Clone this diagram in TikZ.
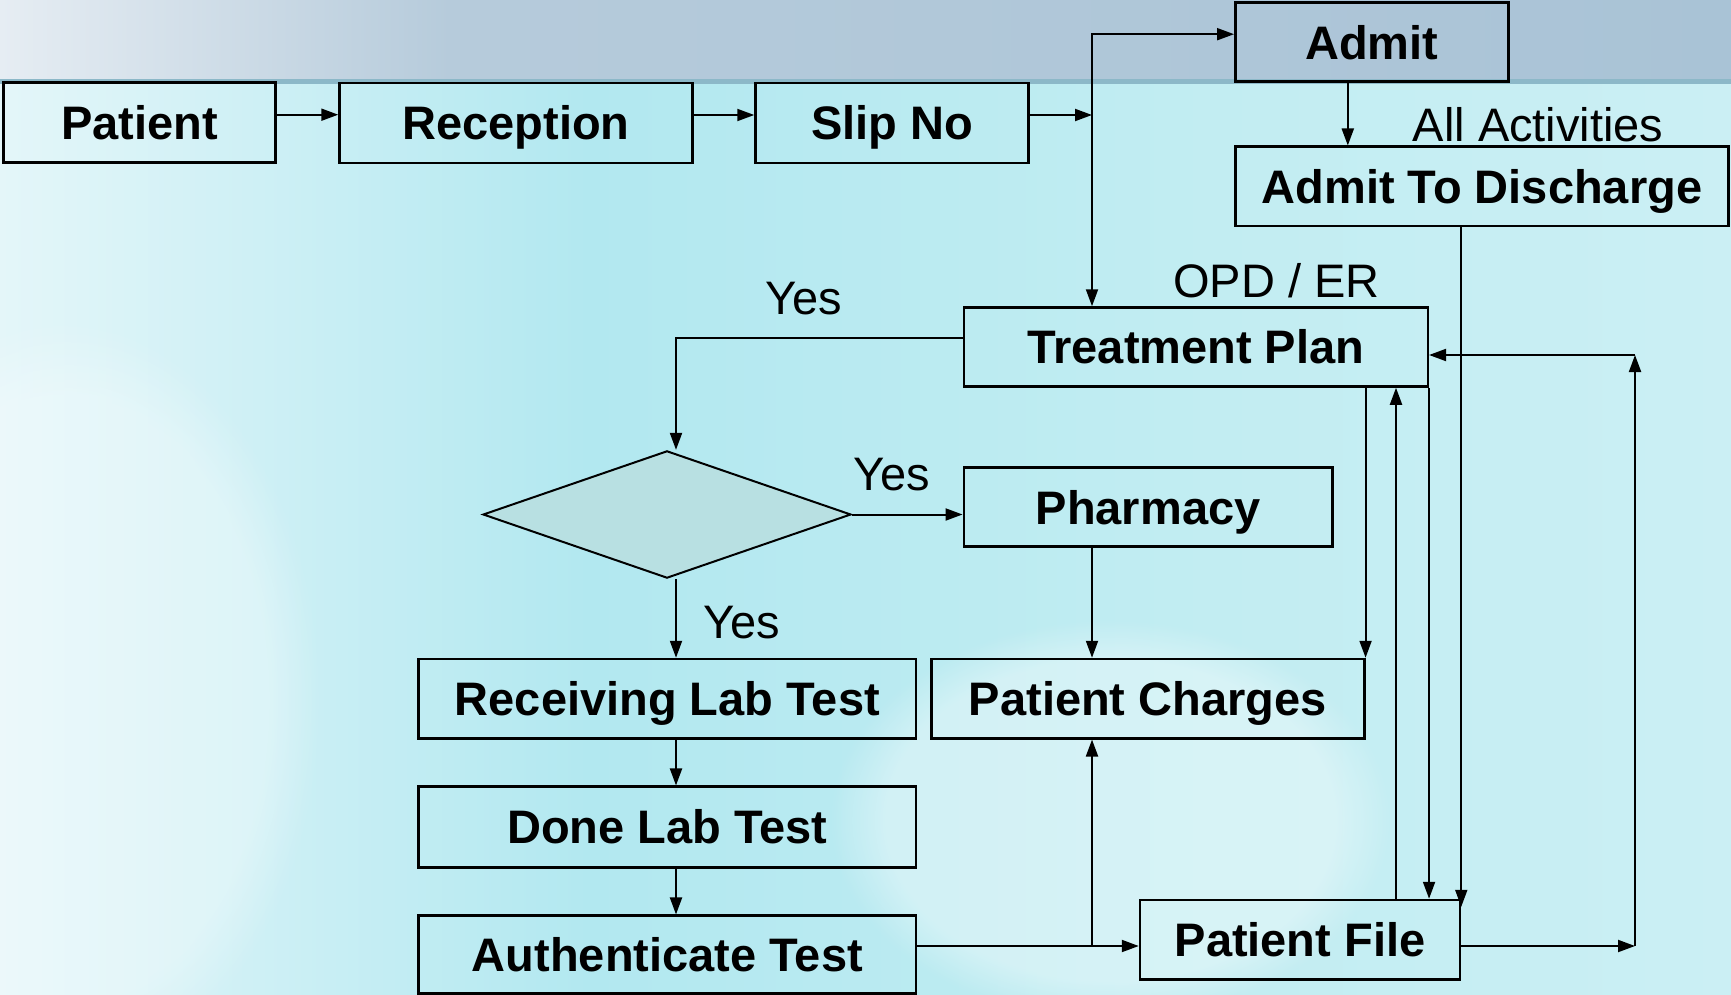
\documentclass[tikz,border=0pt]{standalone}
\usepackage{fontspec}
\setmainfont{Liberation Sans}
\usetikzlibrary{shapes.geometric,arrows.meta,fadings}
\definecolor{bgL}{HTML}{E4F6F9}
\definecolor{bgM}{HTML}{B2E8F0}
\definecolor{bgM2}{HTML}{C2EDF2}
\definecolor{bgR}{HTML}{CBEFF4}
\definecolor{bandL}{HTML}{E6EDF3}
\definecolor{bandM}{HTML}{B6CBDB}
\definecolor{bandR}{HTML}{A9C3D6}
\definecolor{bandEdge}{HTML}{8CB8C8}
\definecolor{diafill}{HTML}{B8E0E2}
\pgfdeclarehorizontalshading{mainbg}{100bp}{color(0bp)=(bgL); color(25bp)=(bgL); color(42bp)=(bgM); color(60bp)=(bgM2); color(75bp)=(bgR); color(100bp)=(bgR)}
\pgfdeclarehorizontalshading{bandbg}{100bp}{color(0bp)=(bandL); color(25bp)=(bandL); color(38bp)=(bandM); color(75bp)=(bandR); color(100bp)=(bandR)}
\newcommand\fsz{\fontsize{47pt}{56pt}\selectfont}
\begin{document}
\begin{tikzpicture}[x=1pt,y=-1pt,
  box/.style={draw=black, line width=2.5pt, inner sep=0pt, font=\bfseries\fsz, text height=33.7pt, text depth=0pt, align=center},
  lbl/.style={inner sep=0pt, anchor=base west, font=\fsz},
  arr/.style={line width=2pt, -{Triangle[length=17pt,width=12pt]}}]
\useasboundingbox (0,0) rectangle (1731,995);
% background
\shade[shading=mainbg] (0,0) rectangle (1731,995);
\fill[white, opacity=0.35, path fading=circle with fuzzy edge 20 percent] (1110,820) ellipse (280 and 200);
\fill[white, opacity=0.3, path fading=circle with fuzzy edge 20 percent] (60,700) ellipse (260 and 380);
\shade[shading=bandbg] (0,0) rectangle (1731,80);
\fill[bandEdge] (0,79) rectangle (1731,84);
% coordinates for connector columns and rows
\coordinate (colx) at (1092,0);
\coordinate (colL) at (676,0);
\coordinate (colU) at (1396,0);
\coordinate (colR) at (1635,0);
\coordinate (rowB) at (0,946);
\coordinate (j1) at (1092,115);
\coordinate (ret) at (1635,355);
% nodes
\node[box, minimum width=272pt, minimum height=80pt] (patient) at (139.6,122.7) {Patient};
\node[box, minimum width=353pt, minimum height=80pt] (reception) at (516,123) {Reception};
\node[box, minimum width=273pt, minimum height=80pt] (slip) at (892,123) {Slip No};
\node[box, minimum width=273pt, minimum height=79pt] (admit) at (1371.8,42.2) {Admit};
\node[box, minimum width=493pt, minimum height=79.3pt] (atd) at (1482,186.4) {Admit To Discharge};
\node[box, minimum width=464pt, minimum height=79pt] (tp) at (1195.8,347) {Treatment Plan};
\node[box, minimum width=368.6pt, minimum height=79pt] (pharm) at (1148.1,507.2) {Pharmacy};
\node[box, minimum width=497.3pt, minimum height=79.3pt] (rlt) at (667.35,698.65) {Receiving Lab Test};
\node[box, minimum width=432.9pt, minimum height=79.3pt] (pc) at (1147.85,698.65) {Patient Charges};
\node[box, minimum width=497.3pt, minimum height=80.6pt] (dlt) at (667.35,827) {Done Lab Test};
\node[box, minimum width=497.3pt, minimum height=78pt] (at) at (667.35,954.7) {Authenticate Test};
\node[box, minimum width=320pt, minimum height=79.3pt] (pf) at (1300,939.65) {Patient File};
% connectors
\draw[arr] ([yshift=8pt]patient.east) -- ([yshift=8pt]patient.east -| reception.west);
\draw[arr] ([yshift=8pt]reception.east) -- ([yshift=8pt]reception.east -| slip.west);
\draw[arr] ([yshift=8pt]slip.east) -- (j1);
\draw[arr] (j1) |- ([yshift=8pt]admit.west);
\draw[arr] (j1) -- (j1 |- tp.north);
\draw[arr] ([xshift=-24pt]admit.south) -- ([xshift=-24pt]admit.south |- atd.north);
\draw[arr] (pf.north east |- atd.south) -- ([yshift=-8pt]pf.north east);
\draw[arr] (tp.south -| pc.north east) -- (pc.north east);
\draw[arr] (colU |- pf.north) -- (colU |- tp.south);
\draw[arr] (tp.south east) -- (tp.south east |- pf.north);
\draw[arr] (colx |- pharm.south) -- (colx |- pc.north);
\draw[arr] (colL |- rlt.south) -- (colL |- dlt.north);
\draw[arr] (colL |- dlt.south) -- (colL |- at.north);
\draw[arr] (at.east |- rowB) -- (pf.west |- rowB);
\draw[arr] (colx |- rowB) -- (colx |- pc.south);
\draw[arr] (pf.east |- rowB) -- (colR |- rowB);
\draw[arr] (colR |- rowB) -- (ret);
\draw[arr] (ret) -- (tp.east |- ret);
% decision
\node[diamond, draw=black, line width=2pt, fill=diafill, minimum width=368pt, minimum height=127.3pt, inner sep=0pt] (dia) at (667,514.5) {};
\draw[arr] ([yshift=8.7pt]tp.west) -| (colL |- dia.north);
\draw[arr] (dia.east) -- (dia.east -| pharm.west);
\draw[arr] (colL |- dia.south) -- (colL |- rlt.north);
% labels
\node[lbl] (allact) at (1412.6,141.7) {All Activities};
\node[lbl] (opd) at (1173,297.7) {OPD / ER};
\node[lbl] (yes1) at (765.4,314) {Yes};
\node[lbl] (yes2) at (852.8,490.7) {Yes};
\node[lbl] (yes3) at (703,638) {Yes};
\end{tikzpicture}
\end{document}
